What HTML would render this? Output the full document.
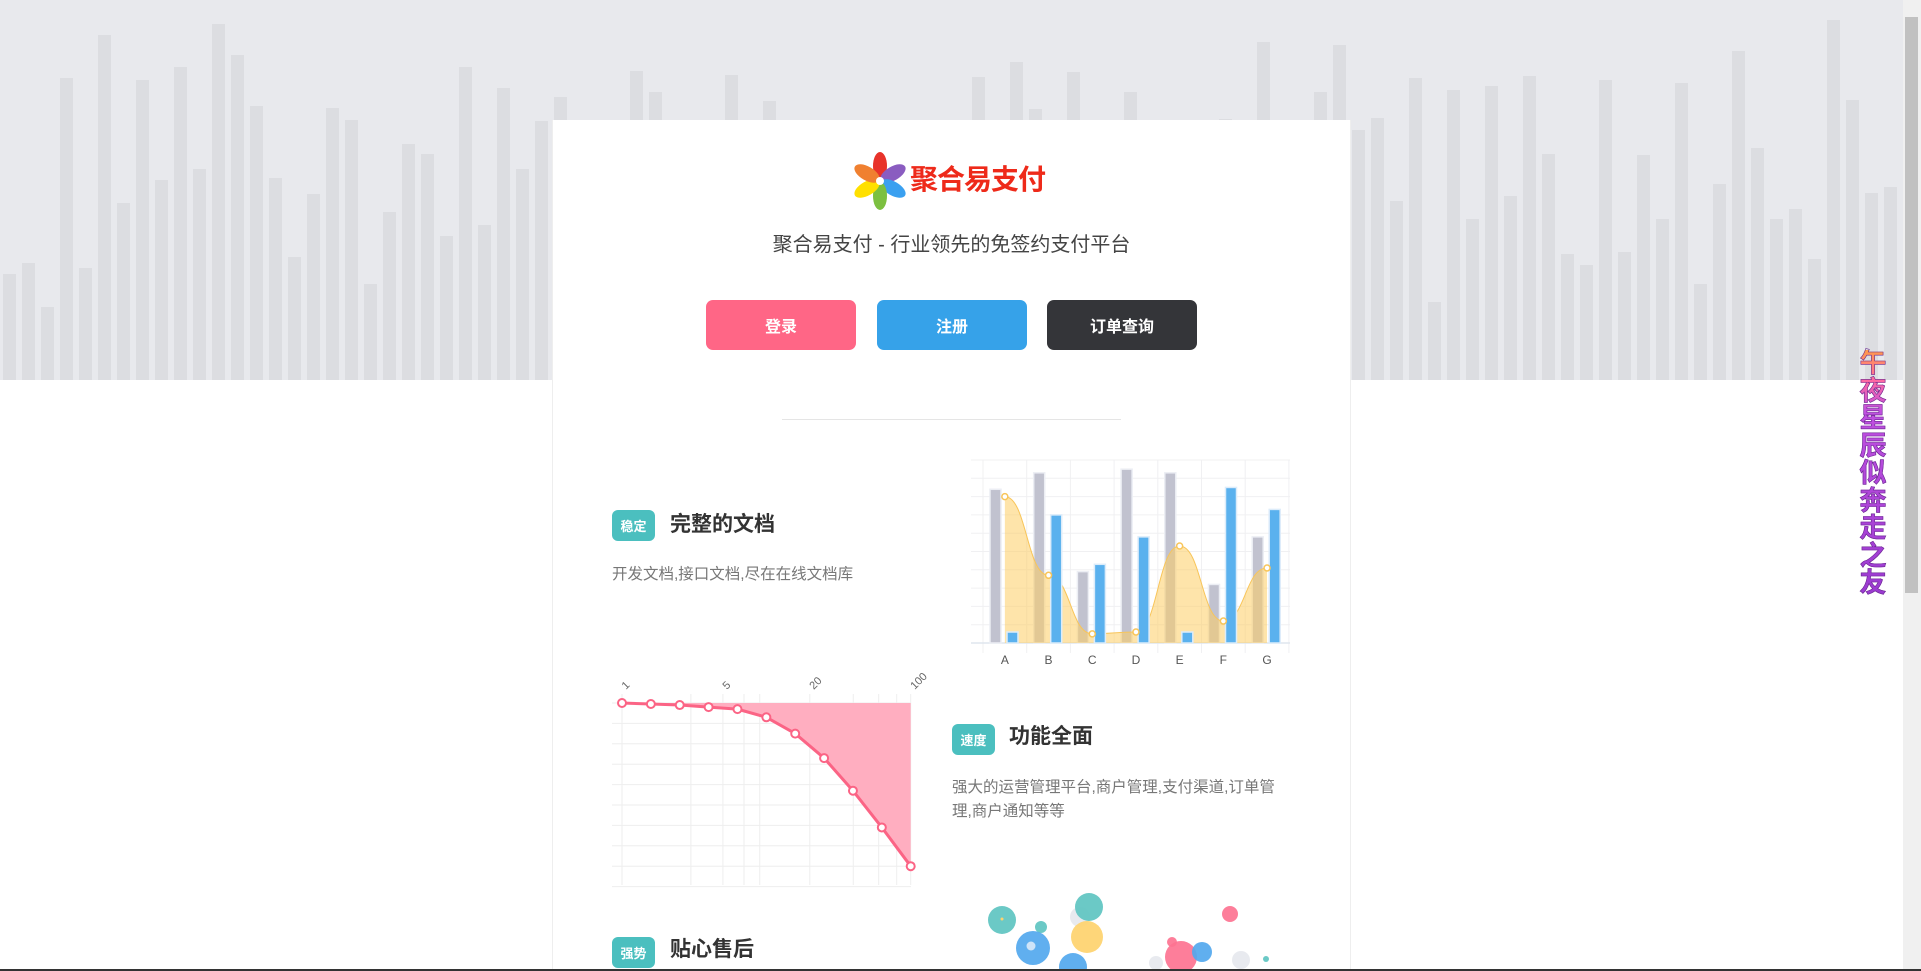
<!DOCTYPE html>
<html><head><meta charset="utf-8">
<style>
*{margin:0;padding:0;box-sizing:border-box}
body{width:1921px;height:971px;overflow:hidden;background:#fff;position:relative;font-family:"Liberation Sans","Noto Sans CJK SC",sans-serif}
.abs{position:absolute}
#band{left:0;top:0;width:1903px;height:380px;background:#e8e9ed}
#card{left:552px;top:120px;width:799px;height:851px;background:#fff;border-left:1px solid #eee;border-right:1px solid #eee}
.btn{top:300px;width:150px;height:50px;border-radius:7px;color:#fff;font-weight:bold;font-size:16px;display:flex;align-items:center;justify-content:center}
.badge{width:43px;height:31px;border-radius:6px;background:#4bbfbf;color:#fff;font-size:13px;font-weight:bold;display:flex;align-items:center;justify-content:center}
.ftitle{font-size:21px;font-weight:bold;color:#333;line-height:30px}
.fdesc{font-size:15.5px;color:#777;line-height:24px}
#vtext{left:1858px;top:350px;width:30px;font-size:27px;line-height:27.5px;text-align:center;font-weight:bold;background:linear-gradient(#ff9a4a 0%,#ff6aa0 12%,#c050e0 25%,#9a3ad0 100%);-webkit-background-clip:text;background-clip:text;color:transparent;-webkit-text-stroke:0.6px #6a2a90}
</style></head><body>
<div id="band" class="abs">
<svg id="bgbars" width="1903" height="380"></svg>
</div>
<div id="card" class="abs"></div>

<svg class="abs" style="left:850px;top:150px" width="64" height="64">
<g transform="translate(30,31)">
<ellipse cx="0" cy="-15" rx="7" ry="14" fill="#e8332a"/>
<ellipse cx="0" cy="-15" rx="7" ry="14" fill="#8a5cc0" transform="rotate(60)"/>
<ellipse cx="0" cy="-15" rx="7" ry="14" fill="#3aa0f0" transform="rotate(120)"/>
<ellipse cx="0" cy="-15" rx="7" ry="14" fill="#7cc040" transform="rotate(180)"/>
<ellipse cx="0" cy="-15" rx="7" ry="14" fill="#ffe000" transform="rotate(240)"/>
<ellipse cx="0" cy="-15" rx="7" ry="14" fill="#f08030" transform="rotate(300)"/>
<circle r="4" fill="#fff"/>
</g></svg>
<div class="abs" style="left:910px;top:162px;font-size:28px;font-weight:bold;color:#ee2a1a;letter-spacing:-1px;line-height:36px">聚合易支付</div>

<div class="abs" style="left:552px;width:799px;top:231px;text-align:center;font-size:20px;color:#444;line-height:28px">聚合易支付 - 行业领先的免签约支付平台</div>

<div class="abs btn" style="left:706px;background:#ff6686">登录</div>
<div class="abs btn" style="left:877px;background:#36a2e9">注册</div>
<div class="abs btn" style="left:1047px;background:#343539">订单查询</div>

<div class="abs" style="left:782px;top:419px;width:339px;height:1px;background:#e5e5e5"></div>

<div class="abs badge" style="left:612px;top:510px">稳定</div>
<div class="abs ftitle" style="left:670px;top:510px">完整的文档</div>
<div class="abs fdesc" style="left:612px;top:563px">开发文档,接口文档,尽在在线文档库</div>

<div class="abs badge" style="left:952px;top:724px">速度</div>
<div class="abs ftitle" style="left:1009px;top:722px">功能全面</div>
<div class="abs fdesc" style="left:952px;top:776px;width:340px">强大的运营管理平台,商户管理,支付渠道,订单管理,商户通知等等</div>

<div class="abs badge" style="left:612px;top:937px">强势</div>
<div class="abs ftitle" style="left:670px;top:935px">贴心售后</div>

<svg class="abs" style="left:0;top:0" width="1921" height="971" id="charts"></svg>

<div id="vtext" class="abs">午<br>夜<br>星<br>辰<br>似<br>奔<br>走<br>之<br>友</div>

<div class="abs" style="left:1903px;top:0;width:18px;height:969px;background:#f0f0f0"></div>
<div class="abs" style="left:1905px;top:17px;width:13px;height:576px;background:#c1c1c1"></div>
<div class="abs" style="left:0;top:969px;width:1921px;height:2px;background:#333"></div>

<script>
// background bar heights (px above band bottom), 100 bars
const bgHeights=[106,117,73,302,112,345,177,300,200,313,211,356,325,274,202,123,186,272,260,96,168,236,226,144,313,155,292,211,259,283,200,160,220,309,288,250,180,210,305,240,279,190,230,150,260,200,175,240,210,170,195,303,230,318,271,200,308,240,260,288,215,180,230,200,261,190,338,250,220,288,335,250,262,179,302,78,290,161,294,184,304,226,126,115,300,128,225,161,297,96,196,329,232,161,171,121,360,280,187,193];
const catLabels=['A','B','C','D','E','F','G'];
const grayVals=[84,93,39,95,93,32,58];
const blueVals=[6,70,43,58,6,85,73];
const lineVals=[80,37,5,6,53,12,41];
const xTickLabels=['1','5','20','100'];
const xTickVals=[1,5,20,100];
const xGridVals=[1,3,5,7,9,20,40,60,80,100];
const curveVals=[0,0.5,1,2,3,7,15,27,43,61,80];
const bubR=[14,6,17,14,10,16,14,8,5,16,10,7,9,3];
const NS='http://www.w3.org/2000/svg';
function mk(parent,tag,attrs){const e=document.createElementNS(NS,tag);for(const k in attrs)e.setAttribute(k,attrs[k]);parent.appendChild(e);return e;}

const bg=document.getElementById('bgbars');
const bgY=h=>380-h;
bgHeights.forEach((h,i)=>{
  const r=mk(bg,'rect',{x:3+i*19,y:bgY(h),width:13,height:h,fill:'#dcdde1'});
  
  
});

const svg=document.getElementById('charts');
const bx0=983,bcw=43.7,bBase=643,bTop=460;
const by=v=>bBase-v/100*(bBase-bTop);
const g1=mk(svg,'g',{});


for(let k=0;k<=10;k++)mk(g1,'line',{x1:971,x2:1290,y1:bTop+k*18.3,y2:bTop+k*18.3,stroke:'#f0f0f2','stroke-width':1});
for(let k=0;k<=7;k++)mk(g1,'line',{x1:bx0+k*bcw,x2:bx0+k*bcw,y1:bTop,y2:bBase+10,stroke:'#f0f0f2','stroke-width':1});
mk(g1,'line',{x1:971,x2:1290,y1:bBase,y2:bBase,stroke:'#dfe6ee','stroke-width':1.5});
catLabels.forEach((c,i)=>{
  const gx=bx0+i*bcw;
  const r1=mk(g1,'rect',{x:gx+7,y:by(grayVals[i]),width:11,height:bBase-by(grayVals[i]),fill:'#c1c2cf',stroke:'#eceef4','stroke-width':1.5});
  
  
  const t=mk(g1,'text',{x:gx+bcw/2,y:664,'font-size':12,fill:'#555','text-anchor':'middle','font-family':'Liberation Sans'});
  t.textContent=c;
  
  
});
const pts=lineVals.map((v,i)=>[bx0+i*bcw+bcw/2,by(v)]);
let d='M'+pts[0][0]+','+pts[0][1];
for(let i=0;i<pts.length-1;i++){const p=pts[i],q=pts[i+1],mx=(p[0]+q[0])/2;d+=` C${mx},${p[1]} ${mx},${q[1]} ${q[0]},${q[1]}`;}
const area=mk(g1,'path',{d:d+` L${pts[6][0]},${bBase} L${pts[0][0]},${bBase} Z`,fill:'rgba(253,205,100,0.55)'});


mk(g1,'path',{d:d,fill:'none',stroke:'#f8c55a','stroke-width':1});
catLabels.forEach((c,i)=>{
  const gx=bx0+i*bcw;
  const r2=mk(g1,'rect',{x:gx+24,y:by(blueVals[i]),width:11,height:bBase-by(blueVals[i]),fill:'#5ab1ee',stroke:'#dcecfa','stroke-width':1.5});
  
  
});
pts.forEach(p=>{const c=mk(g1,'circle',{cx:p[0],cy:p[1],r:3,fill:'#fff',stroke:'#f8c55a','stroke-width':1.5});
  
  });

const lx0=622,lx1=910.7,lTop=703,lStep=20.4;
const lxLog=v=>lx0+Math.log10(v)/2*(lx1-lx0);
const lxi=i=>lx0+i*(lx1-lx0)/(curveVals.length-1);
const ly=v=>lTop+v/10*lStep;
const g2=mk(svg,'g',{});


for(let k=0;k<=9;k++)mk(g2,'line',{x1:612,x2:911,y1:lTop+k*lStep,y2:lTop+k*lStep,stroke:'#eeeeee','stroke-width':1});
xGridVals.forEach(v=>mk(g2,'line',{x1:lxLog(v),x2:lxLog(v),y1:694,y2:885,stroke:'#eeeeee','stroke-width':1}));
xTickLabels.forEach((s,i)=>{const x=lxLog(xTickVals[i]);
  const t=mk(g2,'text',{x:x+4,y:690,'font-size':11,fill:'#666','font-family':'Liberation Sans',transform:`rotate(-45 ${x+4} 690)`});
  t.textContent=s;
  
  });
let ld='';curveVals.forEach((v,i)=>{ld+=(i?' L':'M')+lxi(i)+','+ly(v);});
const la=mk(g2,'path',{d:ld+` L${lxi(curveVals.length-1)},${lTop} Z`,fill:'#ffaec0'});


const ll=mk(g2,'path',{d:ld,fill:'none',stroke:'#fb6485','stroke-width':3,'stroke-linejoin':'round'});


curveVals.forEach((v,i)=>{const c=mk(g2,'circle',{cx:lxi(i),cy:ly(v),r:4,fill:'#fff',stroke:'#fb6485','stroke-width':2});
  
  });

const bubX=[1002,1041,1033,1089,1080,1087,1073,1230,1172,1181,1202,1156,1241,1266];
const bubY=[920,927,948,907,917,937,967,914,942,957,952,963,960,959];
const bubC=['#5ec4c1','#5ec4c1','#53a8ee','#5ec4c1','#e6e8ee','#fed26e','#53a8ee','#fd7391','#fd7391','#fd7391','#53a8ee','#e6e8ee','#e6e8ee','#5ec4c1'];
const g3=mk(svg,'g',{});


[4,0,1,3,5,2,6,11,8,9,10,7,12,13].forEach(i=>{
  const c=mk(g3,'circle',{cx:bubX[i],cy:bubY[i],r:bubR[i],fill:bubC[i],opacity:0.92});
  
  
});
mk(g3,'circle',{cx:1031,cy:946,r:4.5,fill:'#cfe4f8'});
mk(g3,'circle',{cx:1002,cy:919,r:1.5,fill:'#fed26e'});
</script>
</body></html>
